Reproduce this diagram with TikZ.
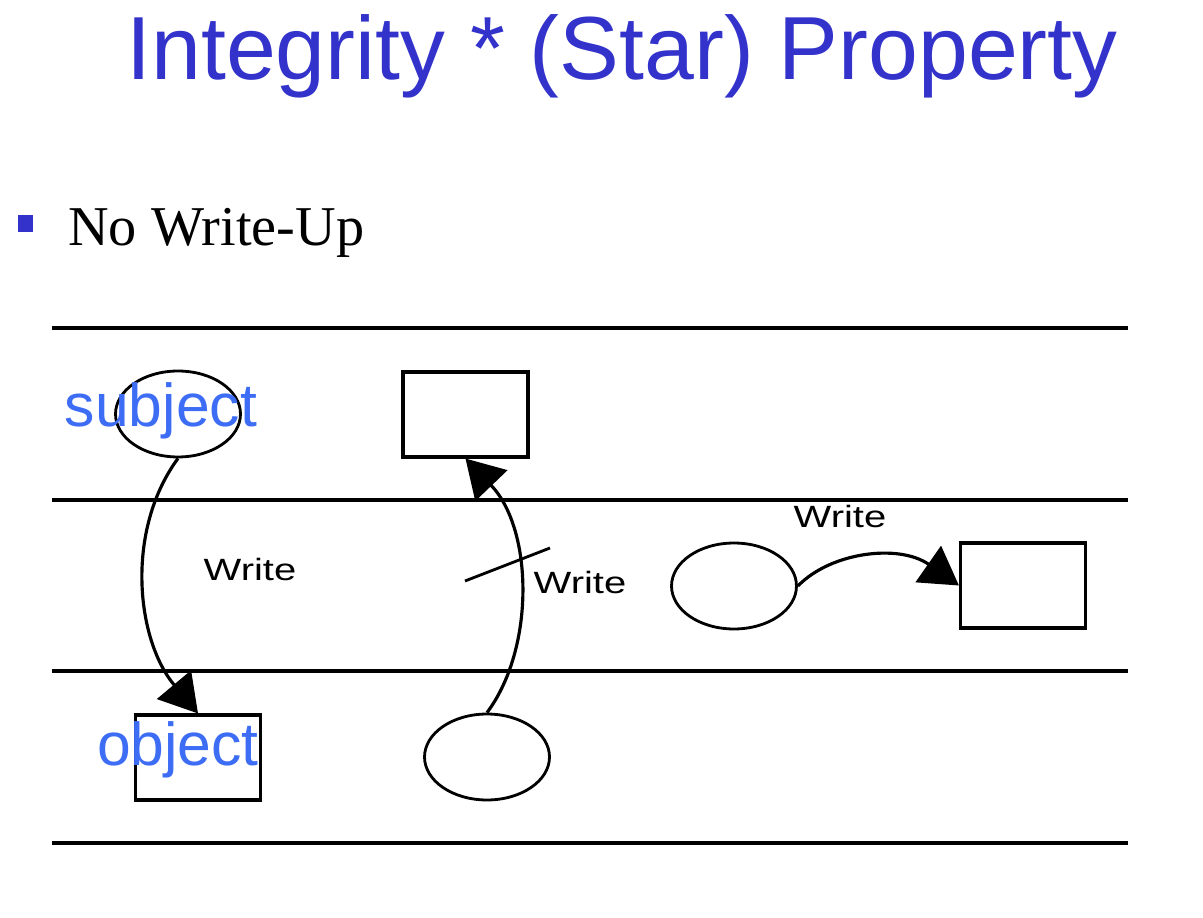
\documentclass[tikz,border=0pt]{standalone}
\usepackage{fontspec}
\setmainfont{Liberation Serif}
\newfontfamily\sansfont{Liberation Sans}
\usepackage{tikz}
\usetikzlibrary{arrows.meta,shapes.geometric}
\definecolor{titleblue}{RGB}{51,51,204}
\definecolor{labelblue}{RGB}{61,108,245}
\tikzset{>={Triangle[length=7.5mm,width=8.8mm]}}

\begin{document}
\begin{tikzpicture}[x=0.02cm,y=-0.02cm,
    level/.style={line width=1.8pt},
    subjectshape/.style={draw,ellipse,line width=1.6pt,minimum width=2.5cm,minimum height=1.72cm,inner sep=0pt},
    objectbox/.style={draw,rectangle,line width=1.8pt,minimum width=2.5cm,minimum height=1.7cm,inner sep=0pt},
    writearrow/.style={->,line width=1.8pt},
    writelabel/.style={font=\sansfont\fontsize{17.5}{20}\selectfont,xscale=1.3,inner sep=0pt},
    tag/.style={labelblue,font=\sansfont\fontsize{34.5}{40}\selectfont,anchor=base,inner sep=0pt}]
    \useasboundingbox (0,0) rectangle (1203,918);

    % heading
    \node[titleblue,font=\sansfont\fontsize{51}{60}\selectfont,anchor=base] (title) at (622,80) {Integrity * (Star) Property};
    \node[fill=titleblue,minimum width=0.3cm,minimum height=0.34cm,inner sep=0pt] (bullet) at (25.5,223.5) {};
    \node[font=\fontsize{32}{38}\selectfont,anchor=base west,inner sep=0pt] (rule) at (68,246) {No Write-Up};

    % security levels
    \foreach \y in {328,500,671,843}
        \draw[level] (52,\y) -- (1128,\y);

    % allowed: write down
    \node[subjectshape] (subj1) at (178,414) {};
    \node[objectbox] (obj1) at (198,757.5) {};
    \node[tag] (subjtag) at (161,427) {subject};
    \node[tag] (objtag) at (178,765) {object};
    \draw[writearrow] (subj1.south) .. controls +(-53,72) and +(-62,-74) .. (obj1.north);
    \node[writelabel] (write1) at (250,570) {Write};

    % forbidden: write up
    \node[subjectshape] (subj2) at (487,757) {};
    \node[objectbox] (obj2) at (465.5,414.5) {};
    \draw[writearrow] (subj2.north) .. controls +(48,-64) and +(68,71) .. (obj2.south);
    \coordinate (cutA) at (465,581);
    \coordinate (cutB) at (550,548);
    \draw[line width=1.6pt] (cutA) -- (cutB);
    \node[writelabel] (write2) at (580,583) {Write};

    % allowed: same level
    \node[subjectshape] (subj3) at (734,586) {};
    \node[objectbox] (obj3) at (1023,585.5) {};
    \draw[writearrow] (subj3.east) .. controls +(33,-34) and +(-60,-42) .. (obj3.west);
    \node[writelabel] (write3) at (840,517) {Write};
\end{tikzpicture}
\end{document}
